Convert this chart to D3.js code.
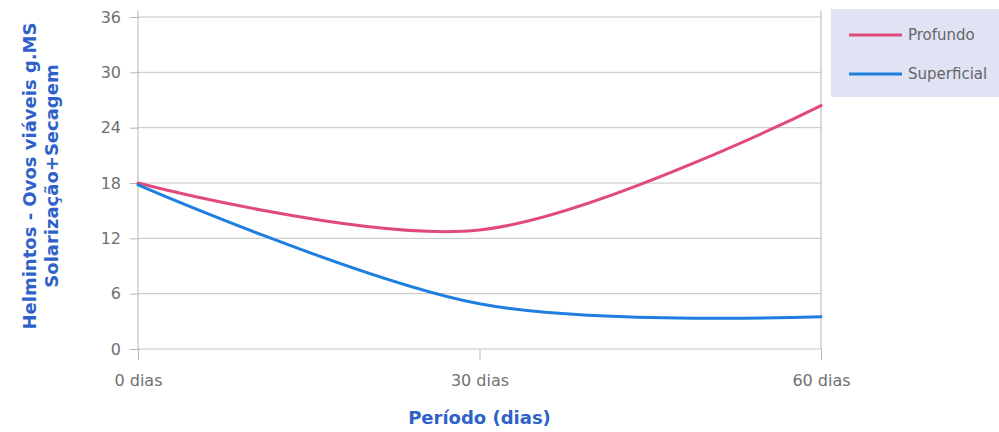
<!DOCTYPE html>
<html>
<head>
<meta charset="utf-8">
<script src="https://cdn.jsdelivr.net/npm/d3@7"></script>
<style>
  html, body { margin: 0; padding: 0; background: #fff; }
  svg { display: block; }
  text { font-family: "DejaVu Sans", Verdana, sans-serif; }
</style>
</head>
<body>
<svg id="chart" width="999" height="432"></svg>
<script>
// Period (days) and helminth egg counts for each layer
const days = [0, 30, 60];
const dayLabels = ["0 dias", "30 dias", "60 dias"];
const profundo = [18, 12.9, 26.4];
const superficial = [17.8, 4.9, 3.5];
const yTicks = [0, 6, 12, 18, 24, 30, 36];
const seriesNames = ["Profundo", "Superficial"];
const seriesColors = ["#e14a7e", "#1f7fe0"];

const svg = d3.select("#chart");
const margin = { left: 138, right: 178, top: 17, bottom: 83 };
const W = 999, H = 432;

const x = d3.scaleLinear().domain([0, 60]).range([margin.left, W - margin.right]);
const y = d3.scaleLinear().domain([0, 36]).range([H - margin.bottom, margin.top]);

// horizontal gridlines with short ticks left of the axis
const yAxis = d3.axisLeft(y).tickValues(yTicks).tickSize(8).tickPadding(9);
const gy = svg.append("g").attr("transform", `translate(${x(0)},0)`).call(yAxis);
gy.select(".domain").remove();
gy.selectAll(".tick line").attr("stroke", "#b4b4b4");
gy.selectAll(".tick text").attr("fill", "#707070").style("font-size", "16px");

svg.append("g").selectAll("line").data(yTicks).join("line")
  .attr("x1", x(0)).attr("x2", x(60))
  .attr("y1", d => y(d)).attr("y2", d => y(d))
  .attr("stroke", "#c4c4c4").attr("stroke-width", 1);

// x axis ticks hanging below the plot
const xAxis = d3.axisBottom(x).tickValues(days).tickFormat((d, i) => dayLabels[i])
  .tickSize(11).tickPadding(15);
const gx = svg.append("g").attr("transform", `translate(0,${y(0)})`).call(xAxis);
gx.select(".domain").remove();
gx.selectAll(".tick line").attr("stroke", "#b4b4b4");
gx.selectAll(".tick text").attr("fill", "#707070").style("font-size", "16px");

// left and right frame lines
[0, 60].forEach(v => {
  svg.append("line").attr("x1", x(v)).attr("x2", x(v))
    .attr("y1", y(36) - 6).attr("y2", y(0))
    .attr("stroke", "#b4b4b4");
});

// smoothed series lines
const line = d3.line().x((d, i) => x(days[i])).y(d => y(d)).curve(d3.curveCatmullRom.alpha(0.5));
[profundo, superficial].forEach((s, i) => {
  svg.append("path").datum(s)
    .attr("d", line)
    .attr("fill", "none")
    .attr("stroke", seriesColors[i])
    .attr("stroke-width", 3)
    .attr("stroke-linecap", "round");
});

// legend
const lg = svg.append("g").attr("transform", "translate(831,9)");
lg.append("rect").attr("width", 168).attr("height", 88).attr("fill", "#dfe3f4");
seriesNames.forEach((n, i) => {
  const yy = 26 + i * 39;
  lg.append("line").attr("x1", 18).attr("x2", 71).attr("y1", yy).attr("y2", yy)
    .attr("stroke", seriesColors[i]).attr("stroke-width", 3);
  lg.append("text").attr("x", 77).attr("y", yy + 5).text(n)
    .attr("fill", "#666").style("font-size", "15px");
});

// axis titles
svg.append("text").attr("x", x(30)).attr("y", 424).attr("text-anchor", "middle")
  .attr("fill", "#2f62c8").style("font-size", "18px").style("font-weight", "bold")
  .text("Período (dias)");

const yt = svg.append("text").attr("transform", "translate(36,176) rotate(-90)")
  .attr("text-anchor", "middle").attr("fill", "#2f62c8")
  .style("font-size", "18px").style("font-weight", "bold");
yt.append("tspan").attr("x", 0).attr("dy", 0).text("Helmintos - Ovos viáveis g.MS");
yt.append("tspan").attr("x", 0).attr("dy", 22).text("Solarização+Secagem");
</script>
</body>
</html>
